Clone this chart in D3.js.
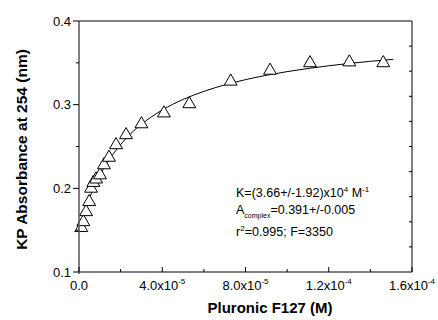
<!DOCTYPE html>
<html><head><meta charset="utf-8">
<script src="https://cdn.jsdelivr.net/npm/d3@7"></script>
<style>body{margin:0;background:#fff}svg{display:block;font-family:"Liberation Sans",Arial,sans-serif}</style>
</head><body>
<script>
const concM = [1.1e-6,2.1e-6,3.4e-6,4.9e-6,5.8e-6,6.9e-6,8.2e-6,1.01e-5,1.2e-5,1.44e-5,1.78e-5,2.26e-5,3.0e-5,4.08e-5,5.3e-5,7.29e-5,9.18e-5,1.11e-4,1.299e-4,1.462e-4];
const absorb = [0.154,0.161,0.173,0.185,0.201,0.208,0.212,0.217,0.229,0.238,0.253,0.265,0.278,0.291,0.302,0.329,0.342,0.351,0.352,0.351];
const fitX = [0.1e-5,0.25e-5,0.5e-5,0.75e-5,1e-5,1.5e-5,2e-5,2.5e-5,3e-5,4e-5,5e-5,6e-5,7e-5,8e-5,9e-5,10e-5,11e-5,12e-5,13e-5,14e-5,15.1e-5];
const fitY = [0.1595,0.1711,0.1881,0.2027,0.2153,0.2361,0.2524,0.2657,0.2766,0.2936,0.3062,0.3159,0.3236,0.3299,0.3351,0.3395,0.3432,0.3465,0.3493,0.3518,0.3542];
const xTicks = [0,4e-5,8e-5,1.2e-4,1.6e-4];
const xTickMant = ["0.0","4.0x10","8.0x10","1.2x10","1.6x10"];
const xTickExp = ["","-5","-5","-4","-4"];
const yTicks = [0.1,0.2,0.3,0.4];
const yTickLabels = ["0.1","0.2","0.3","0.4"];

const W=438,H=320, L=79, R=412, T=21, B=272;
const svg=d3.select("body").append("svg").attr("width",W).attr("height",H);
const x=d3.scaleLinear().domain([0,1.6e-4]).range([L,R]);
const y=d3.scaleLinear().domain([0.1,0.4]).range([B,T]);
const yR=d3.scaleLinear().domain([0,10]).range([T,B]);

// fit line
svg.append("path").datum(fitX.map((v,i)=>[v,fitY[i]]))
 .attr("fill","none").attr("stroke","#000").attr("stroke-width",1)
 .attr("d",d3.line().x(d=>x(d[0])).y(d=>y(d[1])).curve(d3.curveMonotoneX));

// points
const tri=d3.symbol().type(d3.symbolTriangle).size(72);
svg.append("g").selectAll("path").data(concM.map((v,i)=>[v,absorb[i]])).join("path")
 .attr("d",tri).attr("transform",d=>`translate(${x(d[0])},${y(d[1])+1})`)
 .attr("fill","#fff").attr("stroke","#000").attr("stroke-width",1);

// axes
const axC="#555";
svg.append("line").attr("x1",L).attr("x2",R).attr("y1",T).attr("y2",T).attr("stroke","#000").attr("stroke-width",1.2);
svg.append("line").attr("x1",R).attr("x2",R).attr("y1",T).attr("y2",B).attr("stroke",axC).attr("stroke-width",1.5);
svg.append("line").attr("x1",L).attr("x2",L).attr("y1",T).attr("y2",B+2).attr("stroke",axC).attr("stroke-width",1.5);
svg.append("line").attr("x1",L).attr("x2",R).attr("y1",B).attr("y2",B).attr("stroke",axC).attr("stroke-width",1.5);

// right ticks
svg.append("g").selectAll("line").data(d3.range(1,10)).join("line")
 .attr("x1",R-3).attr("x2",R).attr("y1",d=>yR(d)).attr("y2",d=>yR(d)).attr("stroke","#000");

// left axis ticks
const yMinor=[0.15,0.25,0.35];
svg.append("g").selectAll("line").data(yTicks).join("line")
 .attr("x1",L-6).attr("x2",L).attr("y1",d=>y(d)).attr("y2",d=>y(d)).attr("stroke","#000");
svg.append("g").selectAll("line").data(yMinor).join("line")
 .attr("x1",L-3).attr("x2",L).attr("y1",d=>y(d)).attr("y2",d=>y(d)).attr("stroke","#000");
svg.append("g").selectAll("text").data(yTicks).join("text")
 .attr("x",L-8).attr("y",d=>y(d)+4.5).attr("text-anchor","end").attr("font-size",13).text((d,i)=>yTickLabels[i]);

// bottom ticks
const xMinor=[2e-5,6e-5,1e-4,1.4e-4];
svg.append("g").selectAll("line").data(xTicks).join("line")
 .attr("x1",d=>x(d)).attr("x2",d=>x(d)).attr("y1",B).attr("y2",B-5).attr("stroke","#000");
svg.append("g").selectAll("line").data(xMinor).join("line")
 .attr("x1",d=>x(d)).attr("x2",d=>x(d)).attr("y1",B).attr("y2",B-3).attr("stroke","#000");
const xl=svg.append("g").selectAll("text").data(xTicks).join("text")
 .attr("x",d=>x(d)).attr("y",290).attr("text-anchor","middle").attr("font-size",13);
xl.append("tspan").text((d,i)=>xTickMant[i]);
xl.append("tspan").attr("dy",-6).attr("font-size",8).text((d,i)=>xTickExp[i]);

// titles
svg.append("text").attr("transform",`translate(27,${(T+B)/2+3}) rotate(-90)`).attr("text-anchor","middle")
 .attr("font-size",15.5).attr("font-weight","bold").text("KP Absorbance at 254 (nm)");
svg.append("text").attr("x",270).attr("y",313).attr("text-anchor","middle")
 .attr("font-size",15).attr("font-weight","bold").text("Pluronic F127 (M)");

// annotation
const ann=svg.append("g").attr("font-size",12.5);
const t1=ann.append("text").attr("x",236).attr("y",197);
t1.append("tspan").text("K=(3.66+/-1.92)x10");
t1.append("tspan").attr("dy",-5).attr("font-size",8).text("4");
t1.append("tspan").attr("dy",5).text(" M");
t1.append("tspan").attr("dy",-5).attr("font-size",8).text("-1");
const t2=ann.append("text").attr("x",236).attr("y",213.5);
t2.append("tspan").text("A");
t2.append("tspan").attr("dy",4).attr("font-size",7).text("complex");
t2.append("tspan").attr("dy",-4).text("=0.391+/-0.005");
const t3=ann.append("text").attr("x",236).attr("y",236);
t3.append("tspan").text("r");
t3.append("tspan").attr("dy",-5).attr("font-size",8).text("2");
t3.append("tspan").attr("dy",5).text("=0.995; F=3350");
</script>
</body></html>
